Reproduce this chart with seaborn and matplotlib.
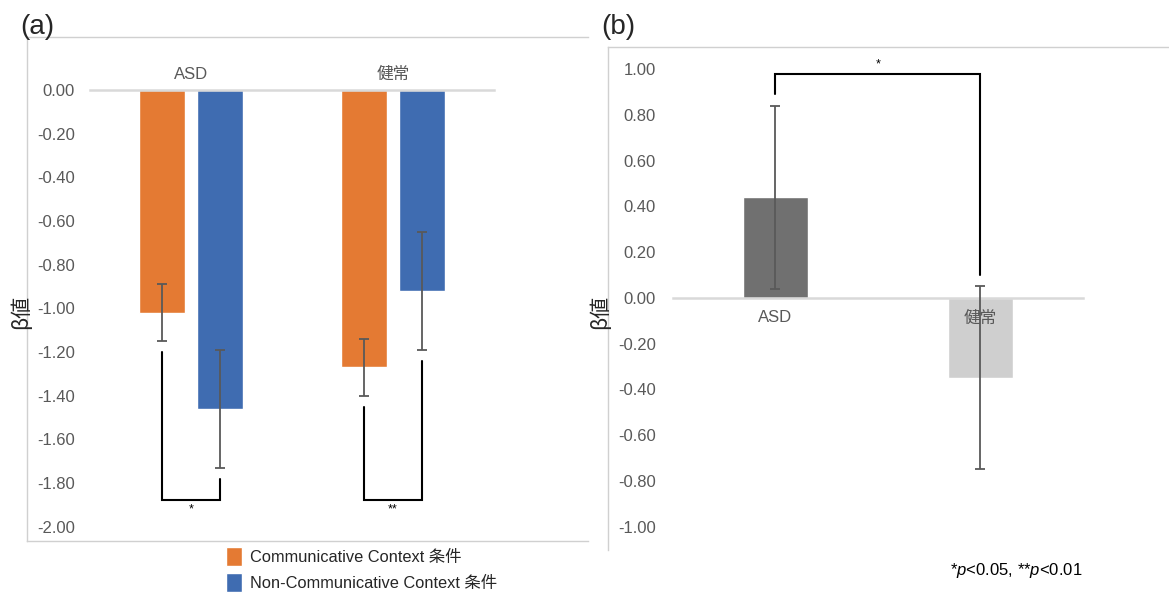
import numpy as np
import pandas as pd
import matplotlib
matplotlib.use("Agg")
import matplotlib.pyplot as plt
from matplotlib.ticker import FuncFormatter
import seaborn as sns

# ---- data -------------------------------------------------------------
groups = ["ASD", "健常"]
conditions = ["Communicative Context 条件", "Non-Communicative Context 条件"]
beta_comm = [-1.02, -1.27]
beta_noncomm = [-1.46, -0.92]
se_comm = [0.13, 0.13]
se_noncomm = [0.27, 0.27]
sig_a = ["*", "**"]

diff_beta = [0.44, -0.35]
diff_se = [0.40, 0.40]
sig_b = "*"

yticks_a = [0.0, -0.2, -0.4, -0.6, -0.8, -1.0, -1.2, -1.4, -1.6, -1.8, -2.0]
yticks_b = [1.0, 0.8, 0.6, 0.4, 0.2, 0.0, -0.2, -0.4, -0.6, -0.8, -1.0]

# ---- style ------------------------------------------------------------
sns.set_style("white")
plt.rcParams["font.family"] = ["Liberation Sans", "Noto Sans CJK JP"]
plt.rcParams["mathtext.fontset"] = "custom"
plt.rcParams["mathtext.rm"] = "Liberation Sans"
plt.rcParams["mathtext.it"] = "Liberation Sans:italic"

ORANGE = "#E47A33"
BLUE = "#3F6CB1"
DARK = "#707070"
LIGHT = "#CFCFCF"
TXT = "#595959"
FRAME = "#D0D0D0"
ZERO = "#D9D9D9"
ERR = "#595959"

W, H = 1169, 595
fig = plt.figure(figsize=(W / 100, H / 100), dpi=100)


def px_axes(left, top, right, bottom, **kw):
    return fig.add_axes([left / W, 1 - bottom / H, (right - left) / W, (bottom - top) / H], **kw)


def fmt(v, _):
    return f"{v + 0:.2f}"


# outer frames of the two panels
fa = px_axes(27, 37, 588, 541, zorder=0)
fb = px_axes(608, 47, 1169, 550, zorder=0)
for f, sides in ((fa, ("left", "top", "bottom")), (fb, ("left", "top"))):
    f.set_xticks([]); f.set_yticks([])
    f.patch.set_alpha(0)
    for s, sp in f.spines.items():
        sp.set_visible(s in sides)
        sp.set_color(FRAME)
        sp.set_linewidth(1.0)

# ---- panel (a) --------------------------------------------------------
df_a = pd.DataFrame({
    "group": groups * 2,
    "condition": [conditions[0]] * 2 + [conditions[1]] * 2,
    "beta": beta_comm + beta_noncomm,
    "se": se_comm + se_noncomm,
})

ax = px_axes(90, 90, 494, 526.7)
ax.patch.set_alpha(0)
sns.barplot(data=df_a, x="group", y="beta", hue="condition", order=groups,
            hue_order=conditions, palette=[ORANGE, BLUE], width=0.572, gap=0.2,
            errorbar=None, ax=ax, saturation=1)
ax.set_axisbelow(False)

handles, labels = ax.get_legend_handles_labels()
ax.get_legend().remove()

# dodge offsets follow seaborn's layout: each hue slot is width/2 wide
offs = {conditions[0]: -0.572 / 4, conditions[1]: 0.572 / 4}
xpos = {}
for _, r in df_a.iterrows():
    x = groups.index(r["group"]) + offs[r["condition"]]
    xpos[(r["group"], r["condition"])] = x
    ax.errorbar(x, r["beta"], yerr=r["se"], fmt="none", ecolor=ERR,
                elinewidth=1.3, capsize=3.6, capthick=1.3, zorder=3)

ax.set_xlim(-0.5, 1.5)
ax.set_ylim(-2.0, 0.0)
ax.set_yticks(yticks_a)
ax.yaxis.set_major_formatter(FuncFormatter(fmt))
ax.tick_params(axis="y", length=0, pad=11, labelsize=12, labelcolor=TXT)
ax.xaxis.tick_top()
ax.tick_params(axis="x", length=0, pad=6, labelsize=12, labelcolor=TXT)
ax.set_xlabel(""); ax.set_ylabel("")
for s, sp in ax.spines.items():
    sp.set_visible(s == "top")
ax.spines["top"].set_color(ZERO)
ax.spines["top"].set_linewidth(1.8)

# significance brackets between conditions within each group
gap = 0.05
base = -1.88
for i, g in enumerate(groups):
    xl = xpos[(g, conditions[0])]
    xr = xpos[(g, conditions[1])]
    yl = beta_comm[i] - se_comm[i] - gap
    yr = beta_noncomm[i] - se_noncomm[i] - gap
    ax.plot([xl, xl, xr, xr], [yl, base, base, yr], color="black", lw=1.5,
            clip_on=False, zorder=4, solid_joinstyle="miter")
    ax.text((xl + xr) / 2, base - 0.015, sig_a[i], ha="center", va="top",
            fontsize=9, color="black")

fig.text(20 / W, 1 - 27 / H, "(a)", fontsize=20, ha="left", va="center")
fig.text(21 / W, 1 - 312 / H, "β値", fontsize=15, rotation=90, ha="center",
         va="center", family=["Noto Sans CJK JP", "DejaVu Sans"])

fig.legend(handles, labels, loc="upper left", bbox_to_anchor=(226 / W, 1 - 547 / H),
           frameon=False, fontsize=11.8, handlelength=0.98, handleheight=1.38,
           handletextpad=0.5, labelspacing=0.45, borderpad=0, borderaxespad=0)

# ---- panel (b) --------------------------------------------------------
df_b = pd.DataFrame({"group": groups, "diff": diff_beta, "se": diff_se})

bx = px_axes(672.7, 69, 1082.7, 526.7)
bx.patch.set_alpha(0)
sns.barplot(data=df_b, x="group", y="diff", hue="group", order=groups,
            hue_order=groups, palette=[DARK, LIGHT], width=0.317,
            errorbar=None, legend=False, ax=bx, saturation=1)
bx.set_axisbelow(False)
for i, g in enumerate(groups):
    bx.errorbar(i, diff_beta[i], yerr=diff_se[i], fmt="none", ecolor=ERR,
                elinewidth=1.3, capsize=3.6, capthick=1.3, zorder=3)

bx.set_xlim(-0.5, 1.5)
bx.set_ylim(-1.0, 1.0)
bx.set_yticks(yticks_b)
bx.yaxis.set_major_formatter(FuncFormatter(fmt))
bx.tick_params(axis="y", length=0, pad=12, labelsize=12, labelcolor=TXT)
bx.tick_params(axis="x", length=0, pad=9, labelsize=12, labelcolor=TXT)
bx.set_xlabel(""); bx.set_ylabel("")
for s, sp in bx.spines.items():
    sp.set_visible(s == "bottom")
bx.spines["bottom"].set_position(("data", 0))
bx.spines["bottom"].set_color(ZERO)
bx.spines["bottom"].set_linewidth(1.8)

top = 0.98
yl = diff_beta[0] + diff_se[0] + gap
yr = diff_beta[1] + diff_se[1] + gap
bx.plot([0, 0, 1, 1], [yl, top, top, yr], color="black", lw=1.5,
        clip_on=False, zorder=4, solid_joinstyle="miter")
bx.text(0.5, top + 0.015, sig_b, ha="center", va="bottom", fontsize=9, color="black")

fig.text(601 / W, 1 - 27 / H, "(b)", fontsize=20, ha="left", va="center")
fig.text(600 / W, 1 - 312 / H, "β値", fontsize=15, rotation=90, ha="center",
         va="center", family=["Noto Sans CJK JP", "DejaVu Sans"])

fig.text(1082 / W, 1 - 570 / H, "*$p$<0.05, **$p$<0.01", fontsize=12,
         ha="right", va="center", color="black")

fig.savefig("out.png", dpi=100)
